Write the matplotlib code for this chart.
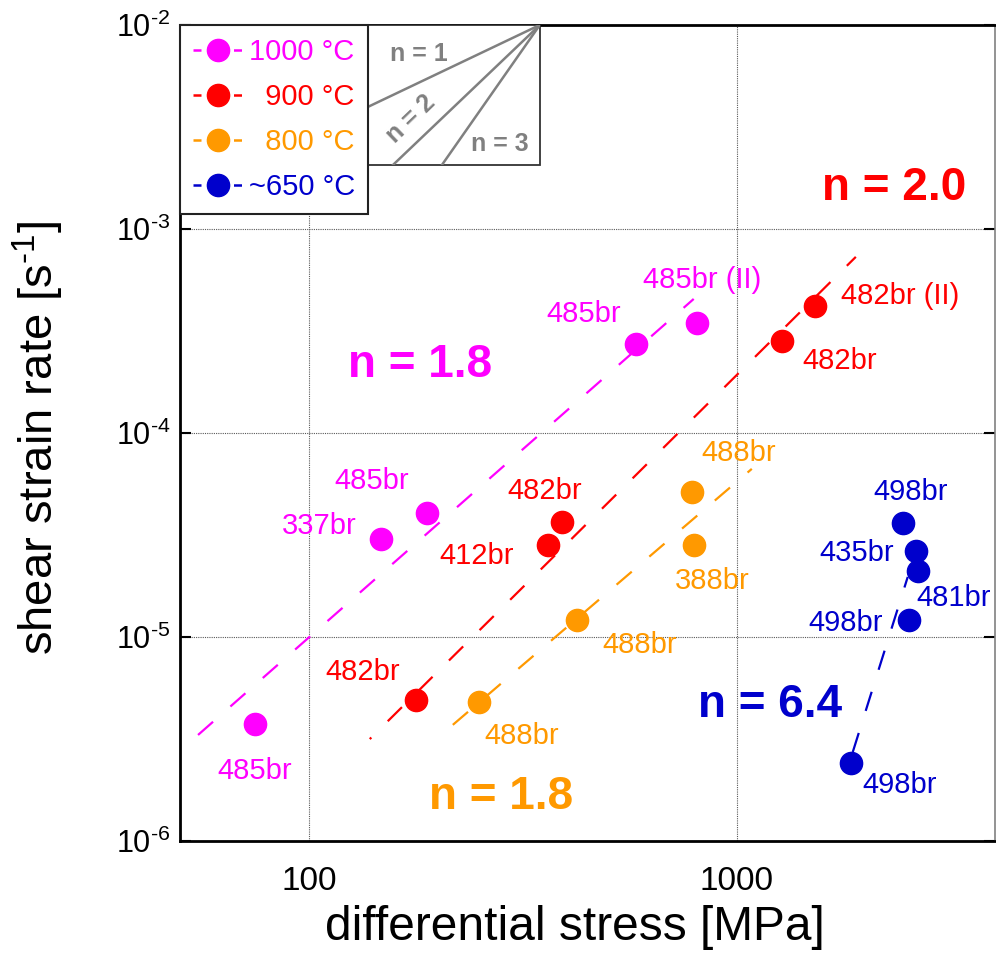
import matplotlib
matplotlib.use("Agg")
import matplotlib.pyplot as plt
from matplotlib.lines import Line2D
from matplotlib.patches import Rectangle
import numpy as np

plt.rcParams["font.family"] = ["Liberation Sans", "DejaVu Sans"]
plt.rcParams["mathtext.fontset"] = "custom"
plt.rcParams["mathtext.rm"] = "Liberation Sans"
plt.rcParams["mathtext.default"] = "regular"

HYPHEN = "\u2010"

# ---- data --------------------------------------------------------------
# 1000 °C
mag_stress = [74.8, 147.2, 188.7, 580.7, 806.0]
mag_rate = [3.75e-6, 3.02e-5, 4.06e-5, 2.73e-4, 3.46e-4]
mag_labels = ["485br", "337br", "485br", "485br", "485br (II)"]
mag_fit_x = [55.1, 793.0]
mag_fit_y = [3.31e-6, 4.54e-4]

# 900 °C
red_stress = [177.8, 361.6, 390.0, 1274.0, 1521.0]
red_rate = [4.91e-6, 2.82e-5, 3.66e-5, 2.83e-4, 4.20e-4]
red_labels = ["482br", "412br", "482br", "482br", "482br (II)"]
red_fit_x = [138.8, 1897.0]
red_fit_y = [3.16e-6, 7.30e-4]

# 800 °C
org_stress = [249.5, 422.6, 793.0, 785.0]
org_rate = [4.80e-6, 1.21e-5, 2.82e-5, 5.14e-5]
org_labels = ["488br", "488br", "388br", "488br"]
org_fit_x = [217.0, 1084.0]
org_fit_y = [3.71e-6, 6.67e-5]

# ~650 °C
blu_stress = [1846.0, 2523.0, 2649.0, 2618.0, 2444.0]
blu_rate = [2.41e-6, 1.21e-5, 2.11e-5, 2.64e-5, 3.62e-5]
blu_labels = ["498br", "498br", "481br", "435br", "498br"]
blu_fit_x = [1866.0, 2508.0]
blu_fit_y = [2.73e-6, 1.97e-5]

temps = ["1000 °C", "  900 °C", "  800 °C", "~650 °C"]
fit_n = ["n = 1.8", "n = 2.0", "n = 1.8", "n = 6.4"]
ref_n = [1, 2, 3]

COLORS = ["#FF00FF", "#FF0000", "#FF9900", "#0000CC"]
GRAY = "#808080"

# label offsets in pixels (dx, dy) from each point
mag_off = [(0, -47), (-61, 13), (-55, 32), (-52, 30), (5, 43)]
red_off = [(-53, 28), (-71, -11), (-17, 31), (58, -20), (85, 10)]
org_off = [(43, -34), (63, -25), (19, -36), (47, 39)]
blu_off = [(49, -22), (-63, -3), (36, -27), (-59, -2), (8, 31)]
# big "n = ..." labels, axes fraction
n_pos = [(0.295, 0.583), (0.877, 0.800), (0.394, 0.054), (0.724, 0.167)]
# reference-slope labels, axes fraction
ref_pos = [(0.293, 0.964), (0.283, 0.885), (0.393, 0.854)]
ref_rot = [0, 44, 0]
# dash phase of each fit line
dash_offset = [0, 8, 0, 0]

LABEL_FS = 21
N_FS = 33

fig = plt.figure(figsize=(9.96, 9.57), dpi=100)
ax = fig.add_axes([0.1807, 0.1212, 0.8178, 0.8527])
ax.set_xscale("log")
ax.set_yscale("log")
ax.set_xlim(50, 4000)
ax.set_ylim(1e-6, 1e-2)

series = [
    (mag_stress, mag_rate, mag_labels, mag_off, mag_fit_x, mag_fit_y),
    (red_stress, red_rate, red_labels, red_off, red_fit_x, red_fit_y),
    (org_stress, org_rate, org_labels, org_off, org_fit_x, org_fit_y),
    (blu_stress, blu_rate, blu_labels, blu_off, blu_fit_x, blu_fit_y),
]

for (xs, ys, labs, offs, fx, fy), c, doff in zip(series, COLORS, dash_offset):
    ax.plot(fx, fy, color=c, lw=1.6, linestyle=(doff, (9, 10.4)), zorder=2)
    ax.plot(xs, ys, linestyle="none", marker="o", markersize=16,
            markerfacecolor=c, markeredgecolor=c, zorder=3)
    for x, y, lab, (dx, dy) in zip(xs, ys, labs, offs):
        ax.annotate(lab, (x, y), xytext=(dx, dy), textcoords="offset pixels",
                    ha="center", va="center", color=c, fontsize=LABEL_FS)

for txt, (px, py), c in zip(fit_n, n_pos, COLORS):
    ax.text(px, py, txt, transform=ax.transAxes, ha="center", va="center",
            color=c, fontsize=N_FS, fontweight="bold")

# reference slope inset (top, next to the legend)
corner_x, corner_y = 346.5, 1e-2
box_x0, box_y0 = 135.2, 2.05e-3
box = Rectangle((box_x0, box_y0), corner_x - box_x0, corner_y - box_y0,
                facecolor="white", edgecolor="#333333", lw=1.3, zorder=4)
ax.add_patch(box)
for n, (px, py), rot in zip(ref_n, ref_pos, ref_rot):
    xx = np.array([box_x0 * 0.5, corner_x])
    yy = corner_y * (xx / corner_x) ** n
    ln, = ax.plot(xx, yy, color=GRAY, lw=1.8, zorder=5)
    ln.set_clip_path(box)
    ax.text(px, py, f"n = {n}", transform=ax.transAxes, ha="center", va="center",
            color=GRAY, fontsize=18, fontweight="bold", rotation=rot, zorder=6)

# legend
handles = [Line2D([], [], color=c, lw=1.8, linestyle=(0, (3.2, 13.0)),
                  marker="o", markersize=16, markerfacecolor=c, markeredgecolor=c)
           for c in COLORS]
leg = ax.legend(handles, temps, loc="upper left", bbox_to_anchor=(0, 1),
                borderaxespad=0, fontsize=LABEL_FS, labelcolor="linecolor",
                frameon=True, fancybox=False, edgecolor="#222222", framealpha=1,
                borderpad=0.45, handlelength=1.7, handletextpad=0.2,
                labelspacing=0.58, numpoints=1)
leg.get_frame().set_linewidth(1.5)
leg.set_zorder(7)

# axes styling
ax.grid(True, which="major", color="0.35", linestyle=(0, (1, 1)), lw=0.8)
ax.set_axisbelow(True)
ax.xaxis.set_minor_locator(matplotlib.ticker.NullLocator())
ax.yaxis.set_minor_locator(matplotlib.ticker.NullLocator())
ax.set_xticks([100, 1000], ["100", "1000"])
yt = [1e-6, 1e-5, 1e-4, 1e-3, 1e-2]
ax.set_yticks(yt, [r"$10^{%s%d}$" % (HYPHEN, -int(np.log10(v))) for v in yt])
ax.tick_params(axis="x", direction="in", length=0, labelsize=24, pad=18)
ax.tick_params(axis="y", direction="in", length=8, width=1.5, labelsize=22,
               pad=7, right=True)
for s in ("left", "bottom", "top"):
    ax.spines[s].set_linewidth(2)
    ax.spines[s].set_color("black")
ax.spines["right"].set_linewidth(1.2)
ax.spines["right"].set_color(GRAY)

ax.set_xlabel("differential stress [MPa]", fontsize=34.5, labelpad=6)
ax.xaxis.label.set_x(0.485)
ax.set_ylabel("shear strain rate [s$^{%s1}$]" % HYPHEN, fontsize=34)
ax.yaxis.set_label_coords(-0.14, 0.494)

fig.savefig("out.png", dpi=100)
